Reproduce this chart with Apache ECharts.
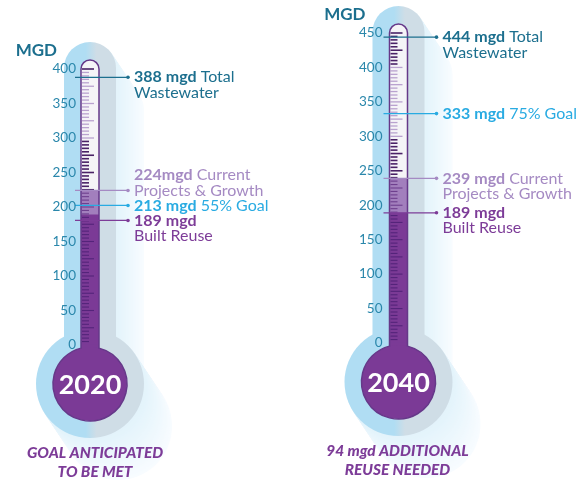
<!DOCTYPE html>
<html><head><meta charset="utf-8">
<script src="https://cdn.jsdelivr.net/npm/echarts@6/dist/echarts.min.js"></script>
<style>html,body{margin:0;padding:0;background:#fff}#c{width:588px;height:480px}</style>
</head><body><div id="c"></div><script>
// ---- data ----
const years = ['2020', '2040'];
const axisMax = [400, 450];
const axisInterval = 50;
const totalWastewater = [388, 444];
const goalValue = [213, 333];
const goalLabel = ['55% Goal', '75% Goal'];
const currentProjects = [224, 239];
const builtReuse = [189, 189];
const notes = [['GOAL ANTICIPATED', 'TO BE MET'], ['94 mgd ADDITIONAL', 'REUSE NEEDED']];

// ---- style ----
const FONT = 'Lato, "Open Sans", sans-serif';
const C = {
  teal: '#1c6f8e', tick: '#2a87ab', cyan: '#29abe2', lilac: '#a58ac3', purple: '#7d3c98',
  fillDark: '#7b3a96', fillLight: '#a27fbd', tube: '#f5f4f7', outline: '#663889',
  haloBlue: '#b0ddf3', haloGrey: '#cfdde6'
};
const HALF = 9, BULB_R = 37, BULB_OFF = 39, HALO_HALF = 26, HALO_R = 54, LH = 15.5, FS = 16;
const noteShift = [5, -1];

function geom(api, i) {
  const p0 = api.coord([0, 0]);
  const pt = api.coord([0, axisMax[i]]);
  const cx = p0[0], y0 = p0[1], yTop = pt[1];
  return { cx, y0, yTop, bulbCy: y0 + BULB_OFF, x0: cx - HALF, x1: cx + HALF };
}
function tubePath(g) {
  const yJoin = g.bulbCy - Math.sqrt(BULB_R * BULB_R - HALF * HALF);
  return `M${g.x0} ${yJoin} L${g.x0} ${g.yTop} A${HALF} ${HALF} 0 0 1 ${g.x1} ${g.yTop} L${g.x1} ${yJoin} A${BULB_R} ${BULB_R} 0 1 1 ${g.x0} ${yJoin} Z`;
}
function lerp(a, b, t) { return Math.round(a + (b - a) * t); }

function renderBack(i) {
  return function (params, api) {
    const g = geom(api, i);
    const ch = [];
    const haloTop = g.yTop - HALF - 18;
    const K = 28;
    for (let k = K; k >= 1; k--) {
      const t = k / K;
      const col = `rgb(${lerp(226, 248, t)},${lerp(243, 252, t)},${lerp(251, 255, t)})`;
      ch.push({ type: 'rect', shape: { x: g.cx - HALO_HALF + k, y: haloTop + k * 1.5, width: HALO_HALF * 2, height: g.bulbCy - haloTop, r: [HALO_HALF, HALO_HALF, 0, 0] }, style: { fill: col } });
      ch.push({ type: 'circle', shape: { cx: g.cx + k, cy: g.bulbCy + k * 1.5, r: HALO_R }, style: { fill: col } });
    }
    const grad = { type: 'linear', x: g.cx - HALO_R, y: 0, x2: g.cx + HALO_R, y2: 0, global: true,
      colorStops: [{ offset: 0, color: C.haloBlue }, { offset: 0.46, color: C.haloBlue }, { offset: 0.56, color: C.haloGrey }, { offset: 1, color: C.haloGrey }] };
    ch.push({ type: 'rect', shape: { x: g.cx - HALO_HALF, y: haloTop, width: HALO_HALF * 2, height: g.bulbCy - haloTop, r: [HALO_HALF, HALO_HALF, 0, 0] }, style: { fill: grad } });
    ch.push({ type: 'circle', shape: { cx: g.cx, cy: g.bulbCy, r: HALO_R }, style: { fill: grad } });
    ch.push({ type: 'path', shape: { pathData: tubePath(g) }, style: { fill: C.tube } });
    return { type: 'group', children: ch };
  };
}

function labelsFor(i) {
  return [
    { v: totalWastewater[i], b: totalWastewater[i] + ' mgd', r: ' Total', l2: 'Wastewater', c: C.teal, anchor: 0 },
    { v: currentProjects[i], b: currentProjects[i] + (i === 0 ? 'mgd' : ' mgd'), r: ' Current', l2: 'Projects & Growth', c: C.lilac, anchor: i === 0 ? 1 : 0 },
    { v: goalValue[i], b: goalValue[i] + ' mgd', r: ' ' + goalLabel[i], c: C.cyan, anchor: 0 },
    { v: builtReuse[i], b: builtReuse[i] + ' mgd', r: '', l2: 'Built Reuse', c: C.purple, anchor: 0 }
  ].sort((a, b) => b.v - a.v);
}

function renderFront(i) {
  return function (params, api) {
    const g = geom(api, i);
    const ch = [];
    ch.push({ type: 'rect', shape: { x: g.x0, y: g.y0 - 0.5, width: HALF * 2, height: g.bulbCy - g.y0 }, style: { fill: C.fillDark } });
    ch.push({ type: 'circle', shape: { cx: g.cx, cy: g.bulbCy, r: BULB_R }, style: { fill: C.fillDark } });
    for (let v = 5; v <= axisMax[i]; v += 5) {
      const y = api.coord([0, v])[1];
      const len = v % 25 === 0 ? 12 : 7;
      let col, w;
      if (v <= builtReuse[i]) { col = '#54247a'; w = 1.1; }
      else if (v <= currentProjects[i]) { col = '#6e3f8e'; w = 1.1; }
      else if (v >= 300 && v <= 400 && !(i === 0 && v > 395)) { col = '#b9a2cf'; w = 1.3; }
      else { col = '#4a2266'; w = 1.6; }
      ch.push({ type: 'line', shape: { x1: g.x0 + 1, y1: y, x2: g.x0 + 1 + len, y2: y }, style: { stroke: col, lineWidth: w } });
    }
    ch.push({ type: 'path', shape: { pathData: tubePath(g) }, style: { fill: null, stroke: C.outline, lineWidth: 1.5 } });
    ch.push({ type: 'text', x: g.cx, y: g.bulbCy + 1, style: { text: years[i], fill: '#fff', fontSize: 27, fontWeight: 'bold', fontFamily: FONT, align: 'center', verticalAlign: 'middle' } });

    // leader lines and labels
    let prevLast = -Infinity;
    labelsFor(i).forEach(L => {
      let y = api.coord([0, L.v])[1];
      const lines = L.l2 ? 2 : 1;
      let first = y - L.anchor * LH;
      if (first < prevLast + LH - 0.5) { first = prevLast + LH - 0.5; y = first + L.anchor * LH; }
      prevLast = first + (lines - 1) * LH;
      const xs = g.x0 - 6, xe = g.x0 + 47;
      ch.push({ type: 'line', shape: { x1: xs, y1: y, x2: xe, y2: y }, style: { stroke: L.c, lineWidth: 1.3 } });
      ch.push({ type: 'circle', shape: { cx: xe, cy: y, r: 1.8 }, style: { fill: L.c } });
      const rich = {
        b: { fontWeight: 'bold', fill: L.c, fontSize: FS, fontFamily: FONT },
        r: { fontWeight: 'normal', fill: L.c, fontSize: FS, fontFamily: FONT }
      };
      ch.push({ type: 'text', x: xe + 6, y: first, style: { text: '{b|' + L.b + '}' + (L.r ? '{r|' + L.r + '}' : ''), rich, fill: L.c, fontSize: FS, fontFamily: FONT, align: 'left', verticalAlign: 'middle' } });
      if (L.l2) ch.push({ type: 'text', x: xe + 6, y: first + LH, style: { text: L.l2, fill: L.c, fontSize: FS, fontFamily: FONT, align: 'left', verticalAlign: 'middle' } });
    });

    notes[i].forEach((t, k) => {
      ch.push({ type: 'text', x: g.cx + noteShift[i], y: g.bulbCy + 69 + k * 19, style: { text: t, fill: C.purple, fontSize: 15.4, fontWeight: 900, fontStyle: 'italic', fontFamily: FONT, align: 'center', verticalAlign: 'middle' } });
    });
    return { type: 'group', children: ch };
  };
}

const chart = echarts.init(document.getElementById('c'), null, { renderer: 'canvas', width: 588, height: 480 });
const grid = [{ left: 81, top: 69, width: 18, height: 276 }, { left: 389.5, top: 33, width: 18, height: 310 }];
const xAxis = [0, 1].map(i => ({ type: 'category', gridIndex: i, data: [years[i]], show: false }));
const yAxis = [0, 1].map(i => ({
  type: 'value', gridIndex: i, min: 0, max: axisMax[i], interval: axisInterval, z: 10,
  axisLine: { show: false }, axisTick: { show: false }, splitLine: { show: false },
  axisLabel: { margin: i === 0 ? 5 : 7, color: C.tick, fontSize: 13.5, fontFamily: FONT },
  name: 'MGD', nameLocation: 'end', nameGap: 18,
  nameTextStyle: { color: C.teal, fontSize: 17, fontWeight: 'bold', fontFamily: FONT, align: 'right', verticalAlign: 'middle', padding: [0, 24, 0, 0] }
}));
const series = [];
[0, 1].forEach(i => {
  series.push({ type: 'custom', xAxisIndex: i, yAxisIndex: i, z: 1, silent: true, data: [[0, axisMax[i]]], renderItem: renderBack(i) });
  series.push({ type: 'bar', xAxisIndex: i, yAxisIndex: i, z: 2, barWidth: 18, barGap: '-100%', silent: true, data: [currentProjects[i]], itemStyle: { color: C.fillLight } });
  series.push({ type: 'bar', xAxisIndex: i, yAxisIndex: i, z: 2, barWidth: 18, barGap: '-100%', silent: true, data: [builtReuse[i]], itemStyle: { color: C.fillDark } });
  series.push({ type: 'custom', xAxisIndex: i, yAxisIndex: i, z: 3, silent: true, data: [[0, axisMax[i]]], renderItem: renderFront(i) });
});
chart.setOption({ animation: false, backgroundColor: '#fff', grid, xAxis, yAxis, series });
</script></body></html>
